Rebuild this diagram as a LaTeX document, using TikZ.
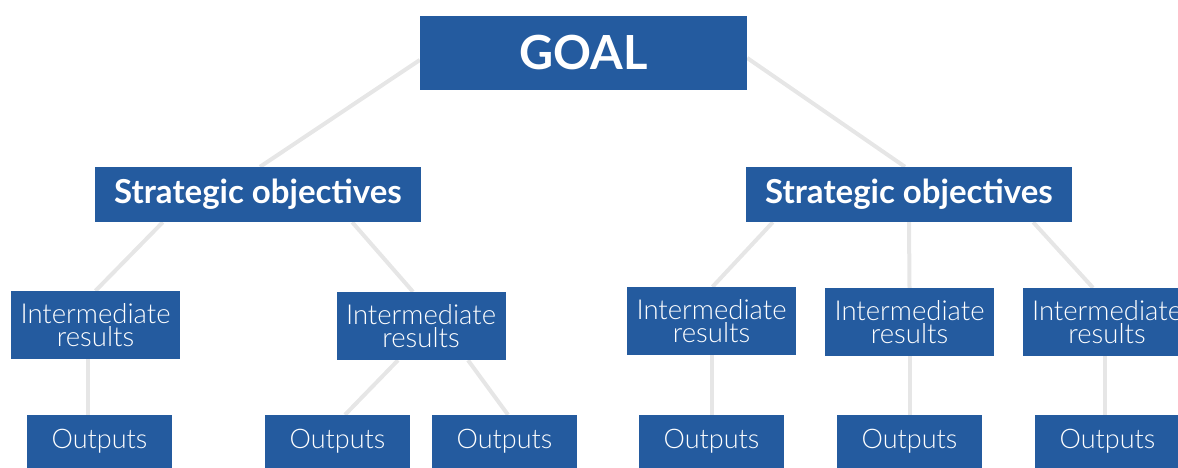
\documentclass[tikz,border=0pt]{standalone}
\usepackage{fontspec}
\setmainfont{Lato}
\newfontfamily\lightfont{Lato Light}
\usetikzlibrary{backgrounds}
\definecolor{boxblue}{HTML}{245B9F}
\definecolor{linkgray}{HTML}{E6E6E6}

\begin{document}
\begin{tikzpicture}[x=1pt, y=-1pt,
    box node/.style={rectangle, fill=boxblue, text=white, inner sep=0pt, align=center},
    goal node/.style={box node, minimum width=327pt, minimum height=74pt, font=\fontsize{47}{47}\selectfont\bfseries},
    obj node/.style={box node, minimum width=326pt, minimum height=55pt, font=\fontsize{33}{33}\selectfont\bfseries},
    res node/.style={box node, minimum width=169pt, minimum height=68pt, font=\lightfont\fontsize{27.5}{23.5}\selectfont},
    out node/.style={box node, minimum width=145pt, minimum height=53pt, font=\lightfont\fontsize{27}{27}\selectfont},
    link/.style={draw=linkgray, line width=4pt}]

  \useasboundingbox (0,0) rectangle (1178,468);
  \clip (0,0) rectangle (1178,468);

  % top level
  \node[goal node] (goal) at (583.5,53) {GOAL};

  % strategic objectives
  \node[obj node] (so1) at (258,194.5) {Strategic objectives};
  \node[obj node] (so2) at (909,194.5) {Strategic objectives};

  % intermediate results
  \node[res node] (ir1) at (95.5,325) {Intermediate\\results};
  \node[res node] (ir2) at (421,326) {Intermediate\\results};
  \node[res node] (ir3) at (711.5,321) {Intermediate\\results};
  \node[res node] (ir4) at (909.5,322) {Intermediate\\results};
  \node[res node] (ir5) at (1107,322) {Intermediate\\results};

  % outputs
  \node[out node] (out1) at (99.5,441.5) {Outputs};
  \node[out node] (out2) at (337.5,441.5) {Outputs};
  \node[out node] (out3) at (504.5,441.5) {Outputs};
  \node[out node] (out4) at (711.5,441.5) {Outputs};
  \node[out node] (out5) at (909.5,441.5) {Outputs};
  \node[out node] (out6) at (1107.5,441.5) {Outputs};

  \begin{scope}[on background layer]
    \path[link]
      ([yshift=-7pt]goal.west) edge ([xshift=2pt]so1.north)
      ([yshift=-5pt]goal.east) edge ([xshift=-4pt]so2.north);
    \path[link]
      ([xshift=68pt]so1.south west) edge (ir1.north)
      ([xshift=-69pt]so1.south east) edge ([xshift=-8pt]ir2.north)
      ([xshift=27pt]so2.south west) edge ([xshift=1pt]ir3.north)
      (so2.south) edge (ir4.north)
      ([xshift=-39pt]so2.south east) edge ([xshift=-14pt]ir5.north);
    \path[link]
      ([xshift=-7.5pt]ir1.south) edge ([xshift=-11.5pt]out1.north)
      ([xshift=-23pt]ir2.south) edge ([xshift=7.5pt]out2.north)
      ([xshift=47pt]ir2.south) edge ([xshift=3.5pt]out3.north)
      (ir3.south) edge (out4.north)
      (ir4.south) edge (out5.north)
      ([xshift=-2pt]ir5.south) edge ([xshift=-2.5pt]out6.north);
  \end{scope}

\end{tikzpicture}
\end{document}
